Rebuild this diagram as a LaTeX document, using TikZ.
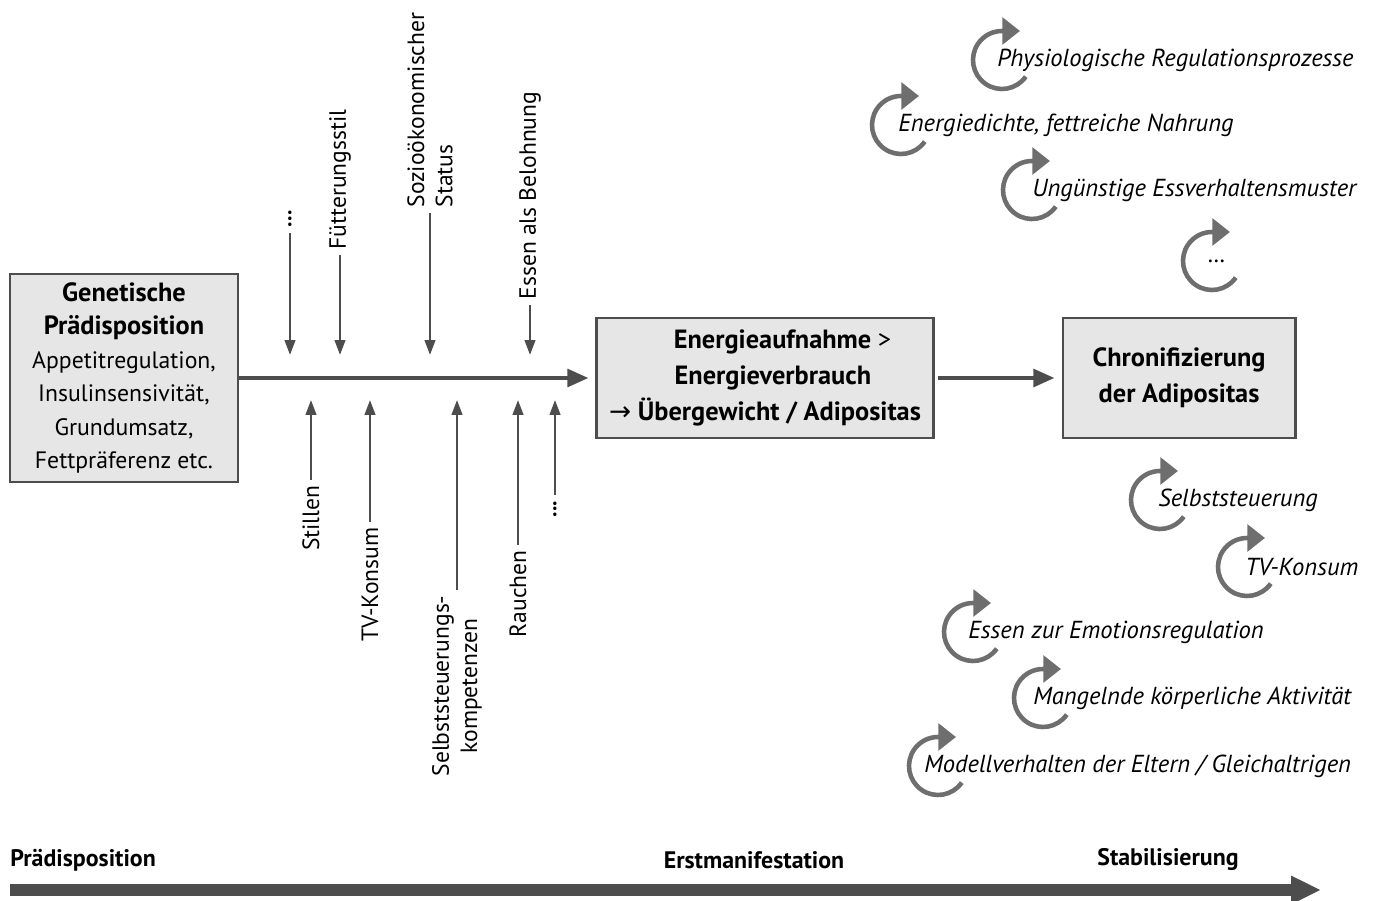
\documentclass[tikz,border=0pt]{standalone}
\usepackage{fontspec}
\setmainfont{PT Sans}
\newfontfamily\symfont{DejaVu Sans}
\usetikzlibrary{arrows.meta,positioning,calc}
\definecolor{linegray}{HTML}{4D4D4D}
\definecolor{boxgray}{HTML}{E6E6E6}
\definecolor{cyclegray}{HTML}{6E6E6E}
\tikzset{
    box/.style={rectangle, draw=linegray, fill=boxgray, line width=1.2pt, align=center, inner sep=2pt, font=\fontsize{13.5}{19}\selectfont},
    main/.style={draw=linegray, line width=2.3pt, -{Triangle[length=12pt,width=10pt]}},
    infl/.style={draw=linegray, line width=1.4pt, -{Triangle[length=8.5pt,width=6pt]}},
    rot/.style={rotate=90, align=center, inner sep=3pt, font=\fontsize{13.4}{16}\selectfont},
    cyc/.style={draw=cyclegray, line width=2.6pt, -{Triangle[length=10pt,width=15pt]}},
    cyclabel/.style={anchor=west, inner sep=0pt, font=\itshape\fontsize{14}{16}\selectfont},
    phase/.style={inner sep=0pt, font=\bfseries\fontsize{13.6}{16}\selectfont},
    timeline/.style={draw=linegray, line width=6.5pt, -{Triangle[length=17pt,width=15pt]}}
}

\begin{document}
\begin{tikzpicture}[x=0.02cm, y=-0.02cm]
    \useasboundingbox (0,0) rectangle (1380,901);

    % main chain
    \node [box, minimum width=4.56cm, minimum height=4.16cm] (gen) at (124,378) {{\bfseries\fontsize{15}{17}\selectfont Genetische}\\{\bfseries\fontsize{15}{17}\selectfont Prädisposition}\\Appetitregulation,\\Insulinsensivität,\\Grundumsatz,\\Fettpräferenz etc.};
    \node [box, minimum width=6.74cm, minimum height=2.4cm, font=\bfseries\fontsize{15}{20.5}\selectfont] (energie) at (765,378) {\hspace*{20pt}Energieaufnahme {\mdseries >}\\\hspace*{9pt}Energieverbrauch\\{\mdseries\symfont →} Übergewicht / Adipositas};
    \node [box, minimum width=4.66cm, minimum height=2.4cm, font=\bfseries\fontsize{15}{20.5}\selectfont, right=2.54cm of energie] (chron) {Chronifizierung\\der Adipositas};

    \path [main] (gen) -- ([xshift=-4pt]energie.west);
    \path [main] ([xshift=2pt]energie.east) -- ([xshift=-4pt]chron.west);

    \coordinate (upper) at (0,355);
    \coordinate (lower) at (0,400);

    % influences from above
    \node [rot, anchor=west, font=\bfseries\fontsize{12.5}{15.5}\selectfont] (dotsA) at (290,233) {...};
    \node [rot, anchor=west] (fuett) at (340,255) {Fütterungsstil};
    \node [rot, anchor=west, align=left] (sozio) at (430,213) {Sozioökonomischer\\Status};
    \node [rot, anchor=west] (belohn) at (530,305) {Essen als Belohnung};

    \path [infl] (dotsA.west) -- (dotsA.west |- upper);
    \path [infl] (fuett.west) -- (fuett.west |- upper);
    \path [infl] (sozio.west) -- (sozio.west |- upper);
    \path [infl] (belohn.west) -- (belohn.west |- upper);

    % influences from below
    \node [rot, anchor=east] (stillen) at (311,480) {Stillen};
    \node [rot, anchor=east] (tv) at (370,522) {TV-Konsum};
    \node [rot, anchor=east] (selbst) at (457,590) {Selbststeuerungs-\\kompetenzen};
    \node [rot, anchor=east] (rauchen) at (518,545) {Rauchen};
    \node [rot, anchor=east, font=\bfseries\fontsize{12.5}{15.5}\selectfont] (dotsB) at (555,495) {...};

    \path [infl] (stillen.east) -- (stillen.east |- lower);
    \path [infl] (tv.east) -- (tv.east |- lower);
    \path [infl] (selbst.east) -- (selbst.east |- lower);
    \path [infl] (rauchen.east) -- (rauchen.east |- lower);
    \path [infl] (dotsB.east) -- (dotsB.east |- lower);

    % maintaining factors
    \foreach \cx/\cy/\tx/\nm/\txt in {
        1002/60/997/physio/{Physiologische Regulationsprozesse},
        901/125/898/dichte/{Energiedichte, fettreiche Nahrung},
        1032/190/1032/muster/{Ungünstige Essverhaltensmuster},
        1212/261/1208/more/{\dots},
        1160/500/1158/steuer/{Selbststeuerung},
        1247/567/1245/tvk/{TV-Konsum},
        973/632/968/emo/{Essen zur Emotionsregulation},
        1043/698/1033/akt/{Mangelnde körperliche Aktivität},
        938/766/924/modell/{Modellverhalten der Eltern / Gleichaltrigen}} {
        \draw [cyc] ($(\cx,\cy)+(-35:0.58cm)$) arc [start angle=-35, end angle=-270, radius=0.58cm] -- ++(0.36cm,0);
        \node [cyclabel] (\nm) at (\tx,\cy) {\txt};
    }

    % phases
    \node [phase, anchor=west] (pPraed) at (10,860) {Prädisposition};
    \node [phase] (pErst) at (754,860) {Erstmanifestation};
    \node [phase] (pStab) at (1168,860) {Stabilisierung};
    \coordinate (tStart) at (10,890);
    \coordinate (tEnd) at (1321,890);
    \path [timeline] (tStart) -- (tEnd);
\end{tikzpicture}
\end{document}
